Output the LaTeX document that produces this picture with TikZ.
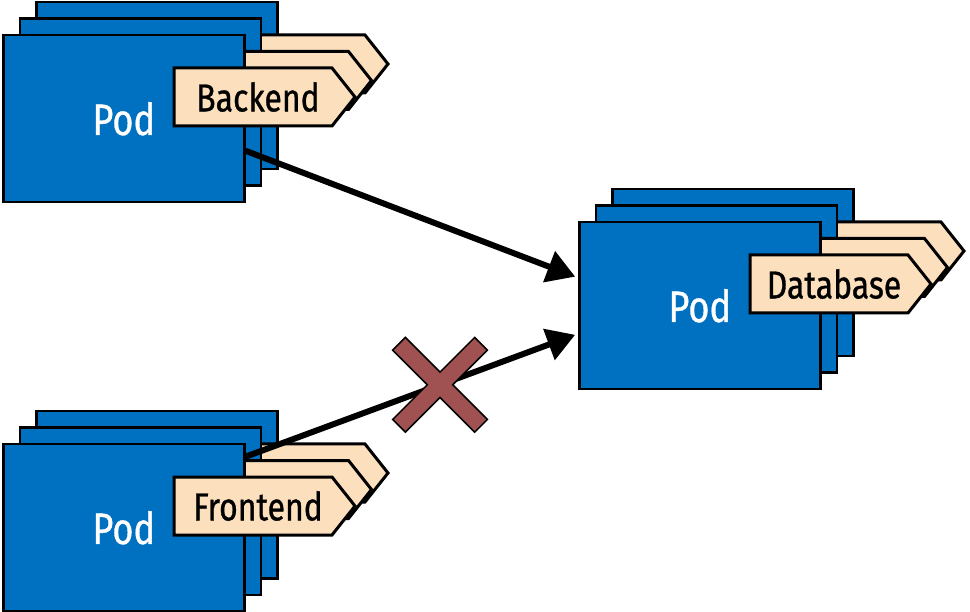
\documentclass[tikz,border=0pt]{standalone}
\usepackage{fontspec}
\setmainfont{Fira Sans}[FakeStretch=0.82,FakeBold=0.8]
\usetikzlibrary{arrows.meta,calc}
\definecolor{podblue}{RGB}{0,112,192}
\definecolor{tagpeach}{RGB}{252,224,190}
\definecolor{crossred}{RGB}{160,82,82}

\begin{document}
\begin{tikzpicture}[x=1pt,y=-1pt,
	card/.style={draw=black,line width=2.5pt,fill=podblue,minimum width=241pt,minimum height=167pt,inner sep=0pt,anchor=north west},
	tag/.style={draw=black,line width=3pt,fill=tagpeach,line join=miter},
	podtext/.style={text=white,font=\fontsize{44}{52}\selectfont},
	tagtext/.style={text=black,font=\fontsize{39}{46}\selectfont},
	link/.style={line width=6pt,-{Triangle[length=28pt,width=32pt]},shorten >=3pt},
	crossbar/.style={draw=black,line width=1.5pt,fill=crossred,line join=miter}]
\useasboundingbox (0,0) rectangle (970,612);

\foreach \x/\y/\pod/\txt in {2/34/backend/Backend,2/443/frontend/Frontend,578/221/database/Database}{
	\foreach \d/\n in {33/back,16.5/mid,0/front}{
		\node[card] (\pod-\n) at (\x+\d,\y-\d) {};
		\draw[tag] (\x+\d+172,\y-\d+34) -- ++(158,0) -- ++(23,29) -- ++(-23,29) -- ++(-158,0) -- cycle;
	}
	\node[podtext] (\pod-name) at (\pod-front.center) {Pod};
	\node[tagtext] (\pod-tag) at (\x+256,\y+63) {\txt};
}

\draw[link] ($(backend-front.east)+(0,32)$) -- ($(database-front.west)+(0,-28)$);
\draw[link] ($(frontend-front.east)+(0,-71)$) -- coordinate[pos=.585] (block) ($(database-front.west)+(0,28)$);

\begin{scope}[shift={(block)},rotate=45]
\draw[crossbar] (58,9) -- (9,9) -- (9,58) -- (-9,58) -- (-9,9) -- (-58,9) -- (-58,-9) -- (-9,-9) -- (-9,-58) -- (9,-58) -- (9,-9) -- (58,-9) -- cycle;
\end{scope}
\end{tikzpicture}
\end{document}
